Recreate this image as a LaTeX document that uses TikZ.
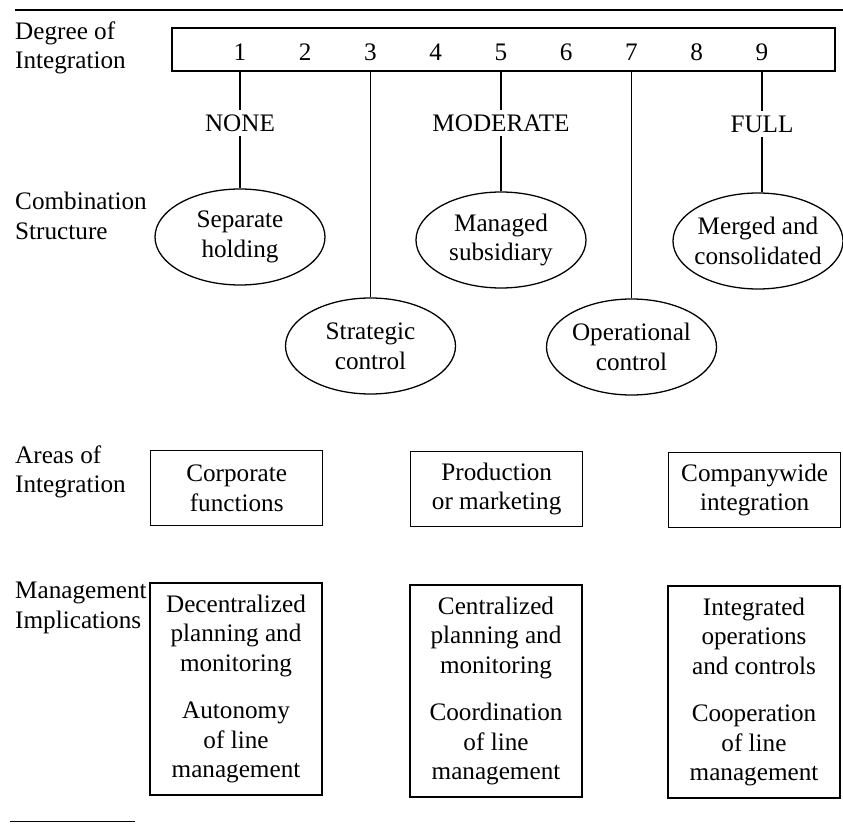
\documentclass[tikz,border=0pt]{standalone}
\usepackage{fontspec}
\setmainfont{Liberation Serif}
\usetikzlibrary{shapes.geometric,positioning,calc}
\newcommand{\diagfont}{\fontsize{21.5}{25.3}\selectfont}

\begin{document}
\begin{tikzpicture}[
  font=\diagfont,
  rowlabel/.style={anchor=west, align=left, inner sep=0pt},
  scalebar/.style={rectangle, draw, line width=1.3pt,
    minimum width=19.89cm, minimum height=1.29cm},
  num/.style={inner sep=1pt},
  level/.style={inner sep=4pt},
  combo/.style={ellipse, draw, line width=1.1pt, align=center,
    minimum width=5.1cm, minimum height=2.88cm, inner xsep=-4pt},
  areabox/.style={rectangle, draw, line width=1.1pt, align=center,
    minimum width=5.16cm, minimum height=2.25cm},
  implbox/.style={rectangle, draw, line width=1.1pt, align=center,
    minimum width=5.16cm, minimum height=6.36cm},
  link/.style={line width=1.3pt},
  rule/.style={line width=1.2pt}
]
\useasboundingbox (0,0) rectangle (25.29,-24.72);

% ---- Rules ----
\draw[rule] (0.45,-0.30) -- (25.29,-0.30);
\draw[rule] (0.30,-24.64) -- (4.05,-24.64);

% ---- Row labels ----
\node[rowlabel] (degree)      at (0.45,-1.44)  {Degree of\\Integration};
\node[rowlabel] (combination) at (0.45,-6.48)  {Combination\\Structure};
\node[rowlabel] (areas)       at (0.45,-14.16) {Areas of\\Integration};
\node[rowlabel] (management)  at (0.45,-18.23) {Management\\Implications};

% ---- Scale (y=-1.5) ----
\node[scalebar] (bar) at (15.1,-1.485) {};
\foreach \k in {1,...,9} {
  \node[num] (n\k) at ({7.2+(\k-1)*1.9575},-1.56) {\k};
}

\node[level] (none)     at (n1 |- 0,-3.69) {NONE};
\node[level] (moderate) at (n5 |- 0,-3.69) {MODERATE};
\node[level] (full)     at (n9 |- 0,-3.72) {FULL};

% ---- Combination structure ----
\node[combo] (separate)    at (n1 |- 0,-7.11)  {Separate\\holding};
\node[combo] (strategic)   at (n3 |- 0,-10.38) {Strategic\\control};
\node[combo] (managed)     at (n5 |- 0,-7.20)  {Managed\\subsidiary};
\node[combo] (operational) at (n7 |- 0,-10.41) {Operational\\control};
\node[combo] (merged)      at (22.74,-7.23)    {Merged and\\consolidated};

% ---- Links ----
\foreach \k/\lvl in {1/none, 5/moderate, 9/full} {
  \draw[link] (n\k |- bar.south) -- (\lvl.north);
}
\draw[link] (none) -- (separate);
\draw[link] (moderate) -- (managed);
\draw[link] (full.south) -- (full.south |- merged.north);
\draw[link] (n3 |- bar.south) -- (strategic.north);
\draw[link] (n7 |- bar.south) -- (operational.north);

% ---- Areas of integration ----
\node[areabox] (corporate)   at (7.10,-14.64)  {Corporate\\functions};
\node[areabox] (production)  at (14.90,-14.67) {Production\\or marketing};
\node[areabox] (companywide) at (22.64,-14.70) {Companywide\\integration};

% ---- Management implications ----
\node[implbox] (decentral)  at (7.08,-20.67)
  {Decentralized\\planning and\\monitoring\\[15pt]Autonomy\\of line\\management};
\node[implbox] (central)    at (14.88,-20.73)
  {Centralized\\planning and\\monitoring\\[15pt]Coordination\\of line\\management};
\node[implbox] (integrated) at (22.62,-20.76)
  {Integrated\\operations\\and controls\\[15pt]Cooperation\\of line\\management};

\end{tikzpicture}
\end{document}
